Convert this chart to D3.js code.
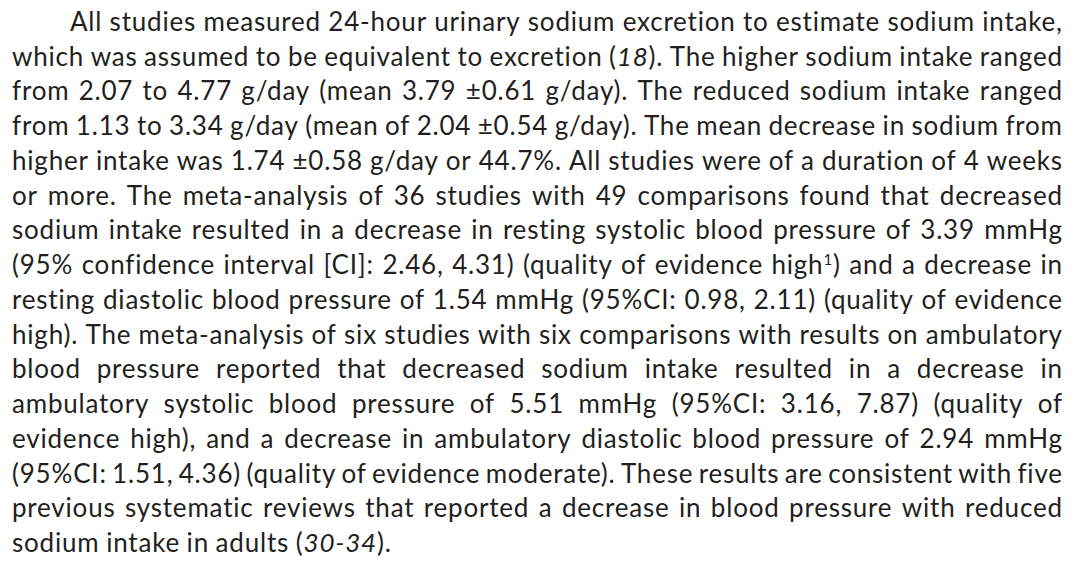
<!DOCTYPE html>
<html>
<head>
<meta charset="utf-8">
<script src="https://cdn.jsdelivr.net/npm/d3@7"></script>
<style>
  html, body { margin: 0; padding: 0; background: #ffffff; }
  svg { display: block; }
</style>
</head>
<body>
<script>
// Paragraph lines (as laid out in the reference). _x_ = italic, ^x^ = superscript.
const lines = [
  "All studies measured 24-hour urinary sodium excretion to estimate sodium intake,",
  "which was assumed to be equivalent to excretion (_18_). The higher sodium intake ranged",
  "from 2.07 to 4.77 g/day (mean 3.79 ±0.61 g/day). The reduced sodium intake ranged",
  "from 1.13 to 3.34 g/day (mean of 2.04 ±0.54 g/day). The mean decrease in sodium from",
  "higher intake was 1.74 ±0.58 g/day or 44.7%. All studies were of a duration of 4 weeks",
  "or more. The meta-analysis of 36 studies with 49 comparisons found that decreased",
  "sodium intake resulted in a decrease in resting systolic blood pressure of 3.39 mmHg",
  "(95% confidence interval [CI]: 2.46, 4.31) (quality of evidence high^1^) and a decrease in",
  "resting diastolic blood pressure of 1.54 mmHg (95%CI: 0.98, 2.11) (quality of evidence",
  "high). The meta-analysis of six studies with six comparisons with results on ambulatory",
  "blood pressure reported that decreased sodium intake resulted in a decrease in",
  "ambulatory systolic blood pressure of 5.51 mmHg (95%CI: 3.16, 7.87) (quality of",
  "evidence high), and a decrease in ambulatory diastolic blood pressure of 2.94 mmHg",
  "(95%CI: 1.51, 4.36) (quality of evidence moderate). These results are consistent with five",
  "previous systematic reviews that reported a decrease in blood pressure with reduced",
  "sodium intake in adults (_30-34_)."
];

const W = 1085, H = 563;
const fontFamily = "Lato, 'Open Sans', sans-serif";
const fontSize = 26;
const letterSpacing = 0.8;
const color = "#231f20";
const leftX = 12, rightX = 1062, indentX = 70;

const svg = d3.select("body").append("svg")
  .attr("width", W).attr("height", H)
  .attr("font-family", fontFamily)
  .attr("font-size", fontSize)
  .attr("letter-spacing", letterSpacing)
  .attr("fill", color);

const yScale = d3.scaleLinear().domain([0, lines.length - 1]).range([31, 552]);

function parseWord(w) {
  const parts = w.split(/(_[^_]*_|\^[^\^]*\^)/).filter(s => s.length);
  return parts.map(p => {
    if (p.startsWith("_") && p.endsWith("_") && p.length > 1) return {text: p.slice(1, -1), italic: true};
    if (p.startsWith("^") && p.endsWith("^") && p.length > 1) return {text: p.slice(1, -1), sup: true};
    return {text: p};
  });
}

// measure a normal space
const probe = svg.append("text").text("a a");
const probe2 = svg.append("text").text("aa");
const spaceW = probe.node().getComputedTextLength() - probe2.node().getComputedTextLength();
probe.remove(); probe2.remove();

lines.forEach((line, i) => {
  const y = yScale(i);
  const words = line.split(" ");
  const g = svg.append("g").attr("class", "line");
  const nodes = words.map(w => {
    const t = g.append("text").attr("y", y);
    let pendingDown = 0;
    parseWord(w).forEach(run => {
      const ts = t.append("tspan").text(run.text);
      if (run.italic) ts.attr("font-style", "italic");
      if (run.sup) {
        ts.attr("font-size", fontSize * 0.58).attr("dy", -fontSize * 0.36);
        pendingDown = fontSize * 0.36;
      } else if (pendingDown) {
        ts.attr("dy", pendingDown);
        pendingDown = 0;
      }
    });
    return t;
  });
  // subtract the trailing letter-spacing so the visible ink ends at the edge
  const widths = nodes.map(n => n.node().getComputedTextLength() - letterSpacing);
  const total = d3.sum(widths);
  const start = i === 0 ? indentX : leftX;
  const last = i === lines.length - 1;
  const gap = last || words.length < 2 ? spaceW : (rightX - start - total) / (words.length - 1);
  let x = start;
  nodes.forEach((n, k) => {
    n.attr("x", x);
    x += widths[k] + gap;
  });
});
</script>
</body>
</html>
